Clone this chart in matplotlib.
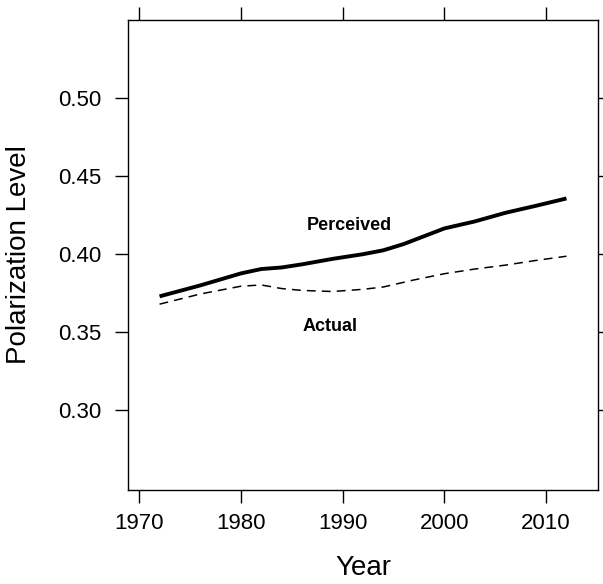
import matplotlib
matplotlib.use("Agg")
import matplotlib.pyplot as plt

plt.rcParams['font.family'] = ['Liberation Sans', 'DejaVu Sans']

perc_years = [1972, 1976, 1980, 1982, 1984, 1986, 1989, 1992, 1994, 1996, 2000, 2003, 2006, 2009, 2012]
perc_vals = [0.373, 0.380, 0.3877, 0.3905, 0.3915, 0.3935, 0.397, 0.400, 0.4025, 0.4065, 0.4165, 0.421, 0.4265, 0.431, 0.4357]

act_years = [1972, 1976, 1980, 1982, 1984, 1986, 1989, 1992, 1994, 1997, 2000, 2003, 2006, 2009, 2012]
act_vals = [0.368, 0.3745, 0.3795, 0.3803, 0.378, 0.3768, 0.3761, 0.3775, 0.379, 0.3835, 0.3875, 0.3905, 0.393, 0.396, 0.3987]

x_ticks = [1970, 1980, 1990, 2000, 2010]
y_ticks = [0.30, 0.35, 0.40, 0.45, 0.50]
y_tick_labels = ["0.30", "0.35", "0.40", "0.45", "0.50"]

fig = plt.figure(figsize=(6.03, 5.84), dpi=100)
ax = fig.add_axes([0.2123, 0.161, 0.7794, 0.8048])

ax.plot(perc_years, perc_vals, color='black', lw=2.8, solid_capstyle='butt')
ax.plot(act_years, act_vals, color='black', lw=1.1, dashes=(5.8, 4))

ax.text(1990.7, 0.4186, "Perceived", ha='center', va='center', fontsize=13, fontweight='bold')
ax.text(1988.8, 0.3534, "Actual", ha='center', va='center', fontsize=13, fontweight='bold')

ax.set_xlim(1968.9, 2015.1)
ax.set_ylim(0.249, 0.55)
ax.set_xticks(x_ticks)
ax.set_yticks(y_ticks)
ax.set_yticklabels(y_tick_labels)
ax.tick_params(direction='out', length=9.5, width=1.0, labelsize=16,
               top=True, right=True, labeltop=False, labelright=False)
ax.tick_params(axis='x', pad=7)
ax.tick_params(axis='y', pad=9.5)
for s in ax.spines.values():
    s.set_linewidth(1.0)

fig.text(363 / 603, 1 - 568 / 584, "Year", fontsize=20, ha='center', va='center')
fig.text(19 / 603, 1 - 255 / 584, "Polarization Level", fontsize=20, ha='center', va='center', rotation=90)

fig.savefig("out.png", dpi=100)
